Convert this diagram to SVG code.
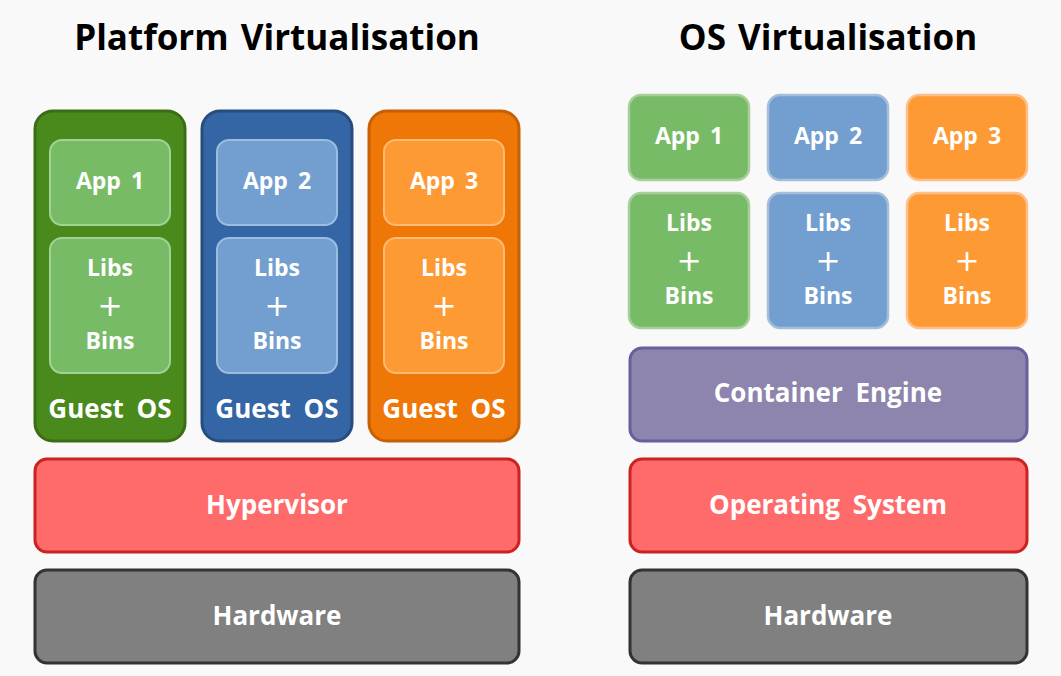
<svg xmlns="http://www.w3.org/2000/svg" width="1061" height="676" viewBox="0 0 1061 676">
<style>
text{font-family:"Open Sans","Liberation Sans",sans-serif;font-weight:bold;fill:#fff;text-anchor:middle;word-spacing:4px}
.title{fill:#000;font-size:35px;word-spacing:3px}
.lbl{font-size:23px}
.plus{font-family:"DejaVu Sans",sans-serif;font-size:30px;font-weight:normal}
.big{font-size:26px;word-spacing:6px}
.greenD{fill:#4a8a1c;stroke:#3b6d15;stroke-width:3}
.blueD{fill:#3465a4;stroke:#274d7e;stroke-width:3}
.orangeD{fill:#ef7708;stroke:#c65f05;stroke-width:3}
.greenL{fill:#78bb67;stroke:#a3d295;stroke-width:2}
.blueL{fill:#729fcf;stroke:#9dbde0;stroke-width:2}
.orangeL{fill:#fe9a33;stroke:#ffba74;stroke-width:2}
.greenR{fill:#78bb67;stroke:#a8cf9a;stroke-width:2.5}
.blueR{fill:#729fcf;stroke:#a6bfd9;stroke-width:2.5}
.orangeR{fill:#fe9a33;stroke:#fdc08a;stroke-width:2.5}
.red{fill:#ff6b6b;stroke:#cc2222;stroke-width:3}
.grey{fill:#808080;stroke:#333;stroke-width:3}
.purple{fill:#8d85ad;stroke:#6a5e9e;stroke-width:3}
</style>
<rect width="1061" height="676" fill="#f9f9f9"/>
<text class="title" x="277" y="50">Platform Virtualisation</text>
<text class="title" x="828" y="50">OS Virtualisation</text>

<g id="guest1">
<rect class="greenD" x="35" y="111" width="150" height="330" rx="18"/>
<text class="big" x="110" y="418">Guest OS</text>
</g>
<g id="app1L"><rect class="greenL" x="50" y="140" width="120" height="85" rx="12"/><text class="lbl" x="110" y="189">App 1</text></g>
<g id="libs1L"><rect class="greenL" x="50" y="238" width="120" height="135" rx="12"/><text class="lbl" x="110" y="276">Libs</text><text class="plus" x="110" y="316">+</text><text class="lbl" x="110" y="349">Bins</text></g>

<g id="guest2">
<rect class="blueD" x="202" y="111" width="150" height="330" rx="18"/>
<text class="big" x="277" y="418">Guest OS</text>
</g>
<g id="app2L"><rect class="blueL" x="217" y="140" width="120" height="85" rx="12"/><text class="lbl" x="277" y="189">App 2</text></g>
<g id="libs2L"><rect class="blueL" x="217" y="238" width="120" height="135" rx="12"/><text class="lbl" x="277" y="276">Libs</text><text class="plus" x="277" y="316">+</text><text class="lbl" x="277" y="349">Bins</text></g>

<g id="guest3">
<rect class="orangeD" x="369" y="111" width="150" height="330" rx="18"/>
<text class="big" x="444" y="418">Guest OS</text>
</g>
<g id="app3L"><rect class="orangeL" x="384" y="140" width="120" height="85" rx="12"/><text class="lbl" x="444" y="189">App 3</text></g>
<g id="libs3L"><rect class="orangeL" x="384" y="238" width="120" height="135" rx="12"/><text class="lbl" x="444" y="276">Libs</text><text class="plus" x="444" y="316">+</text><text class="lbl" x="444" y="349">Bins</text></g>

<g id="hypervisor"><rect class="red" x="35" y="459" width="484" height="93" rx="12"/><text class="big" x="277" y="514">Hypervisor</text></g>
<g id="hardwareL"><rect class="grey" x="35" y="570" width="484" height="93" rx="12"/><text class="big" x="277" y="625">Hardware</text></g>

<g id="app1R"><rect class="greenR" x="629" y="95" width="120" height="85" rx="12"/><text class="lbl" x="689" y="144">App 1</text></g>
<g id="app2R"><rect class="blueR" x="768" y="95" width="120" height="85" rx="12"/><text class="lbl" x="828" y="144">App 2</text></g>
<g id="app3R"><rect class="orangeR" x="907" y="95" width="120" height="85" rx="12"/><text class="lbl" x="967" y="144">App 3</text></g>
<g id="libs1R"><rect class="greenR" x="629" y="193" width="120" height="135" rx="12"/><text class="lbl" x="689" y="231">Libs</text><text class="plus" x="689" y="271">+</text><text class="lbl" x="689" y="304">Bins</text></g>
<g id="libs2R"><rect class="blueR" x="768" y="193" width="120" height="135" rx="12"/><text class="lbl" x="828" y="231">Libs</text><text class="plus" x="828" y="271">+</text><text class="lbl" x="828" y="304">Bins</text></g>
<g id="libs3R"><rect class="orangeR" x="907" y="193" width="120" height="135" rx="12"/><text class="lbl" x="967" y="231">Libs</text><text class="plus" x="967" y="271">+</text><text class="lbl" x="967" y="304">Bins</text></g>

<g id="engine"><rect class="purple" x="630" y="348" width="397" height="93" rx="12"/><text class="big" x="828" y="402">Container Engine</text></g>
<g id="os"><rect class="red" x="630" y="459" width="397" height="93" rx="12"/><text class="big" x="828" y="514">Operating System</text></g>
<g id="hardwareR"><rect class="grey" x="630" y="570" width="397" height="93" rx="12"/><text class="big" x="828" y="625">Hardware</text></g>
<g id="connectors"/>
</svg>
